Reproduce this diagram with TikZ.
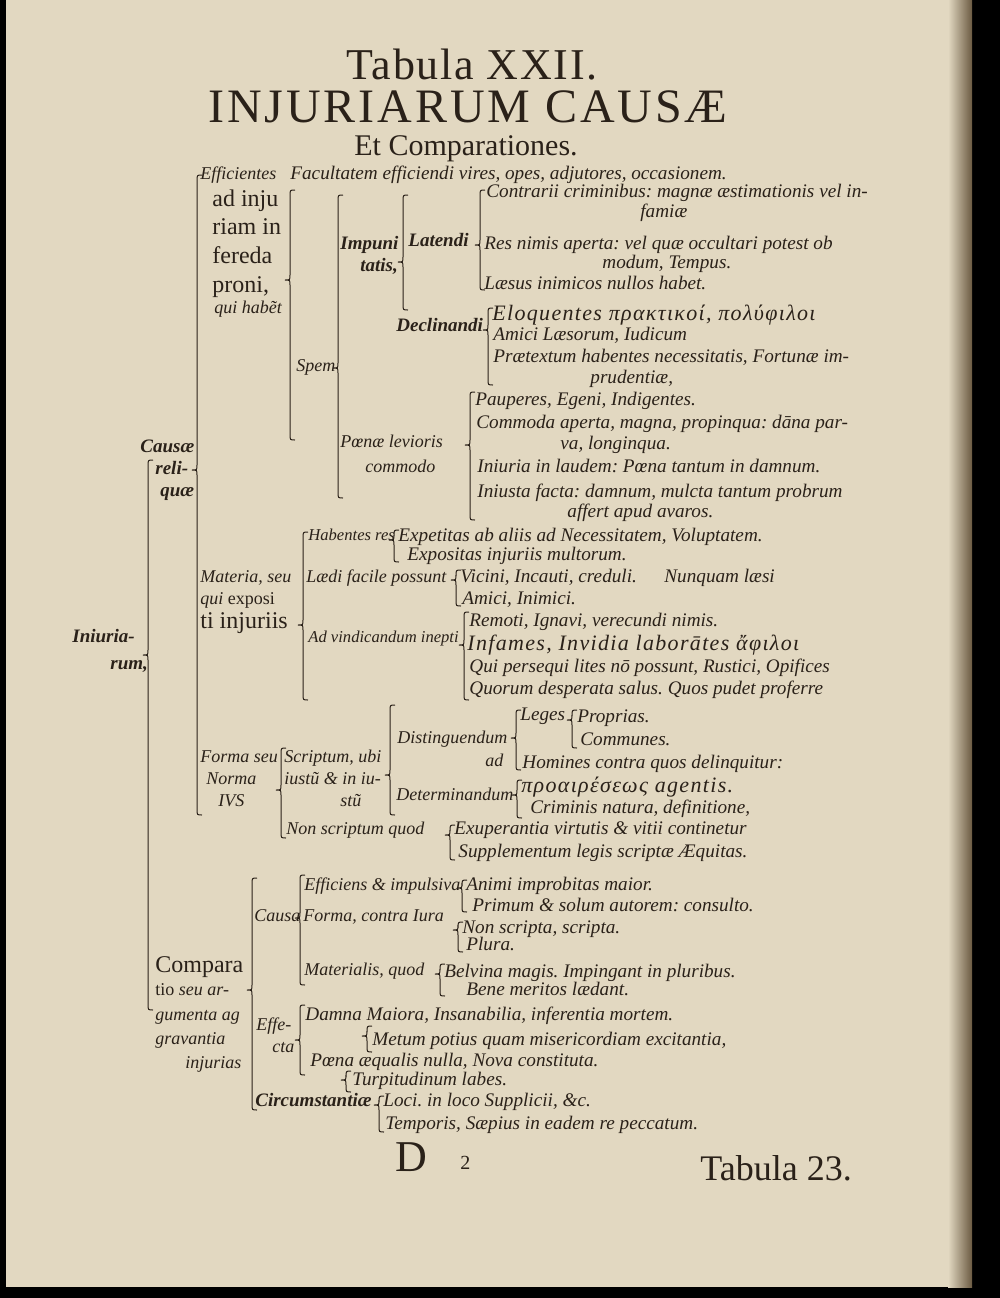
\documentclass[tikz,border=0pt]{standalone}
\usepackage{fontspec}
\setmainfont{Liberation Serif}
\usetikzlibrary{positioning}

\definecolor{paper}{HTML}{E2D8C1}
\definecolor{ink}{HTML}{2A2119}
\definecolor{shade}{HTML}{6B5A42}

\tikzset{
  it/.style={anchor=base west, inner sep=0pt, text=ink, font=\fontsize{9.6}{10}\selectfont\itshape},
  lab/.style={anchor=base west, inner sep=0pt, text=ink, font=\fontsize{9}{10}\selectfont\itshape},
  small/.style={anchor=base west, inner sep=0pt, text=ink, font=\fontsize{8.3}{9}\selectfont\itshape},
  itb/.style={anchor=base west, inner sep=0pt, text=ink, font=\fontsize{9.5}{10}\selectfont\itshape\bfseries},
  rm/.style={anchor=base west, inner sep=0pt, text=ink, font=\fontsize{12}{13}\selectfont},
  big/.style={anchor=base west, inner sep=0pt, text=ink, font=\fontsize{11}{12}\selectfont\itshape\addfontfeatures{LetterSpace=6}},
  brk/.style={draw=ink, line width=0.5pt},
}

% old style brace: x, top, tip, bottom
\newcommand{\obrace}[4]{%
  \draw[brk] (#1+5,#2) .. controls (#1,#2) .. (#1,#2+6) -- (#1,#3-5)
    .. controls (#1,#3) .. (#1-5,#3) .. controls (#1,#3) .. (#1,#3+5)
    -- (#1,#4-6) .. controls (#1,#4) .. (#1+5,#4);}

\begin{document}
\frenchspacing
\begin{tikzpicture}[x=0.5pt, y=-0.5pt]

% =============== PAGE ===============
\fill[black] (0,0) rectangle (1000,1298);
\fill[paper] (6,0) rectangle (972,1287);
\shade[left color=paper, right color=shade] (948,0) rectangle (972,1287);
\useasboundingbox (0,0) rectangle (1000,1298);

% =============== TITLE ===============
\node[anchor=base, inner sep=0pt, text=ink, font=\fontsize{22}{24}\selectfont\addfontfeatures{LetterSpace=4}] (tab) at (472,79) {Tabula XXII.};
\node[anchor=base, inner sep=0pt, text=ink, font=\fontsize{24}{26}\selectfont\addfontfeatures{LetterSpace=6}] (inj) at (468,122) {INJURIARUM CAUSÆ};
\node[anchor=base, inner sep=0pt, text=ink, font=\fontsize{15}{17}\selectfont] (comp) at (466,155) {Et Comparationes.};

% =============== CAUSAE RELIQUAE ===============
\node[itb] (inja) at (72,642) {Iniuria-};
\node[itb] (injb) at (110,669) {rum,};
\obrace{148}{460}{655}{1010}

\node[itb] (causa) at (140,452) {Causæ};
\node[itb] (relia) at (155,474) {reli-};
\node[itb] (relib) at (160,496) {quæ};
\obrace{197}{175}{470}{815}

% efficientes
\node[lab] (eff) at (200,179) {Efficientes};
\node[it] (fac) at (290,179) {Facultatem efficiendi vires, opes, adjutores, occasionem.};
\node[rm] (proa) at (212,206) {ad inju};
\node[rm] (prob) at (212,234) {riam in};
\node[rm] (proc) at (212,263) {fereda};
\node[rm] (prod) at (212,292) {proni,};
\node[lab] (proe) at (214,313) {qui habẽt};
\obrace{290}{190}{280}{440}

\node[lab] (spem) at (296,371) {Spem};
\obrace{338}{195}{368}{498}

\node[itb] (impa) at (340,249) {Impuni};
\node[itb] (impb) at (360,271) {tatis,};
\obrace{403}{195}{262}{310}

\node[itb] (lat) at (408,246) {Latendi};
\obrace{480}{190}{245}{290}
\node[it] (lat1) at (486,197) {Contrarii criminibus: magnæ æstimationis vel in-};
\node[it] (lat1b) at (640,217) {famiæ};
\node[it] (lat2) at (484,249) {Res nimis aperta: vel quæ occultari potest ob};
\node[it] (lat2b) at (602,268) {modum, Tempus.};
\node[it] (lat3) at (484,289) {Læsus inimicos nullos habet.};

\node[itb] (dec) at (396,331) {Declinandi};
\obrace{488}{308}{330}{385}
\node[big] (dec1) at (492,320) {Eloquentes πρακτικοί, πολύφιλοι};
\node[it] (dec2) at (493,340) {Amici Læsorum, Iudicum};
\node[it] (dec3) at (493,362) {Prætextum habentes necessitatis, Fortunæ im-};
\node[it] (dec3b) at (590,383) {prudentiæ,};

\node[lab] (poea) at (340,447) {Pœnæ levioris};
\node[lab] (poeb) at (365,472) {commodo};
\obrace{470}{392}{445}{520}
\node[it] (poe1) at (475,405) {Pauperes, Egeni, Indigentes.};
\node[it] (poe2) at (476,428) {Commoda aperta, magna, propinqua: dāna par-};
\node[it] (poe2b) at (560,449) {va, longinqua.};
\node[it] (poe3) at (477,472) {Iniuria in laudem: Pœna tantum in damnum.};
\node[it] (poe4) at (477,497) {Iniusta facta: damnum, mulcta tantum probrum};
\node[it] (poe4b) at (567,517) {affert apud avaros.};

% materia
\node[small] (hab) at (308,540) {Habentes res};
\obrace{394}{530}{540}{562}
\node[it] (hab1) at (398,541) {Expetitas ab aliis ad Necessitatem, Voluptatem.};
\node[it] (hab2) at (407,560) {Expositas injuriis multorum.};

\node[lab] (mata) at (200,582) {Materia, seu};
\node[lab] (matb) at (200,604) {qui \textup{exposi}};
\node[rm] (matc) at (200,628) {ti injuriis};
\obrace{303}{532}{625}{700}

\node[lab] (lae) at (306,582) {Lædi facile possunt};
\obrace{456}{570}{580}{606}
\node[it] (lae1) at (460,582) {Vicini, Incauti, creduli.};
\node[it] (lae2) at (664,582) {Nunquam læsi};
\node[it] (lae3) at (462,604) {Amici, Inimici.};

\node[small] (vin) at (308,642) {Ad vindicandum inepti};
\obrace{464}{612}{645}{700}
\node[it] (vin1) at (469,626) {Remoti, Ignavi, verecundi nimis.};
\node[big] (vin2) at (467,650) {Infames, Invidia laborātes ἄφιλοι};
\node[it] (vin3) at (469,672) {Qui persequi lites nō possunt, Rustici, Opifices};
\node[it] (vin4) at (469,694) {Quorum desperata salus. Quos pudet proferre};

% forma
\node[lab] (fora) at (200,762) {Forma seu};
\node[lab] (forb) at (206,784) {Norma};
\node[lab] (forc) at (218,806) {IVS};
\obrace{281}{748}{790}{838}

\node[lab] (scra) at (284,762) {Scriptum, ubi};
\node[lab] (scrb) at (284,784) {iustũ \& in iu-};
\node[lab] (scrc) at (340,806) {stũ};
\obrace{390}{705}{775}{815}

\node[lab] (dis) at (397,743) {Distinguendum};
\obrace{516}{710}{738}{770}
\node[it] (leg) at (520,720) {Leges};
\obrace{572}{710}{720}{748}
\node[it] (leg1) at (577,722) {Proprias.};
\node[it] (leg2) at (580,745) {Communes.};
\node[lab] (ad) at (485,766) {ad};
\node[it] (hom) at (522,768) {Homines contra quos delinquitur:};

\node[lab] (det) at (396,800) {Determinandum};
\obrace{517}{780}{795}{818}
\node[big] (det1) at (521,792) {προαιρέσεως agentis.};
\node[it] (det2) at (530,813) {Criminis natura, definitione,};

\node[lab] (non) at (286,834) {Non scriptum quod};
\obrace{450}{825}{835}{860}
\node[it] (non1) at (454,834) {Exuperantia virtutis \& vitii continetur};
\node[it] (non2) at (458,857) {Supplementum legis scriptæ Æquitas.};

% =============== COMPARATIO ===============
\node[rm] (cmpa) at (155,972) {Compara};
\node[lab] (cmpb) at (155,995) {\textup{tio} seu ar-};
\node[lab] (cmpc) at (155,1020) {gumenta ag};
\node[lab] (cmpd) at (155,1044) {gravantia};
\node[lab] (cmpe) at (185,1068) {injurias};
\obrace{252}{878}{990}{1110}

\node[lab] (cau) at (254,921) {Causa};
\obrace{300}{875}{918}{985}
\node[lab] (ci) at (304,890) {Efficiens \& impulsiva};
\obrace{462}{880}{888}{912}
\node[it] (ci1) at (466,890) {Animi improbitas maior.};
\node[it] (ci2) at (472,911) {Primum \& solum autorem: consulto.};
\node[lab] (cf) at (303,921) {Forma, contra Iura};
\obrace{458}{922}{930}{952}
\node[it] (cf1) at (462,933) {Non scripta, scripta.};
\node[it] (cf2) at (466,950) {Plura.};
\node[lab] (cm) at (304,975) {Materialis, quod};
\obrace{440}{964}{974}{996}
\node[it] (cm1) at (444,977) {Belvina magis. Impingant in pluribus.};
\node[it] (cm2) at (466,995) {Bene meritos lædant.};

\node[lab] (efa) at (256,1030) {Effe-};
\node[lab] (efb) at (272,1052) {cta};
\obrace{300}{1005}{1040}{1075}
\node[it] (ef1) at (305,1020) {Damna Maiora, Insanabilia, inferentia mortem.};
\obrace{367}{1026}{1036}{1052}
\node[it] (ef2) at (372,1045) {Metum potius quam misericordiam excitantia,};
\node[it] (ef3) at (310,1066) {Pœna æqualis nulla, Nova constituta.};
\obrace{346}{1071}{1080}{1092}
\node[it] (ef4) at (352,1085) {Turpitudinum labes.};

\node[itb] (cir) at (255,1106) {Circumstantiæ};
\obrace{379}{1096}{1105}{1132}
\node[it] (cir1) at (383,1106) {Loci. in loco Supplicii, \&c.};
\node[it] (cir2) at (385,1129) {Temporis, Sæpius in eadem re peccatum.};

% =============== FOOTER ===============
\node[anchor=base west, inner sep=0pt, text=ink, font=\fontsize{22}{24}\selectfont] (sig) at (395,1171) {D};
\node[anchor=base west, inner sep=0pt, text=ink, font=\fontsize{10}{11}\selectfont] (sign) at (460,1169) {2};
\node[anchor=base west, inner sep=0pt, text=ink, font=\fontsize{18}{20}\selectfont] (next) at (700,1180) {Tabula 23.};

\end{tikzpicture}
\end{document}
